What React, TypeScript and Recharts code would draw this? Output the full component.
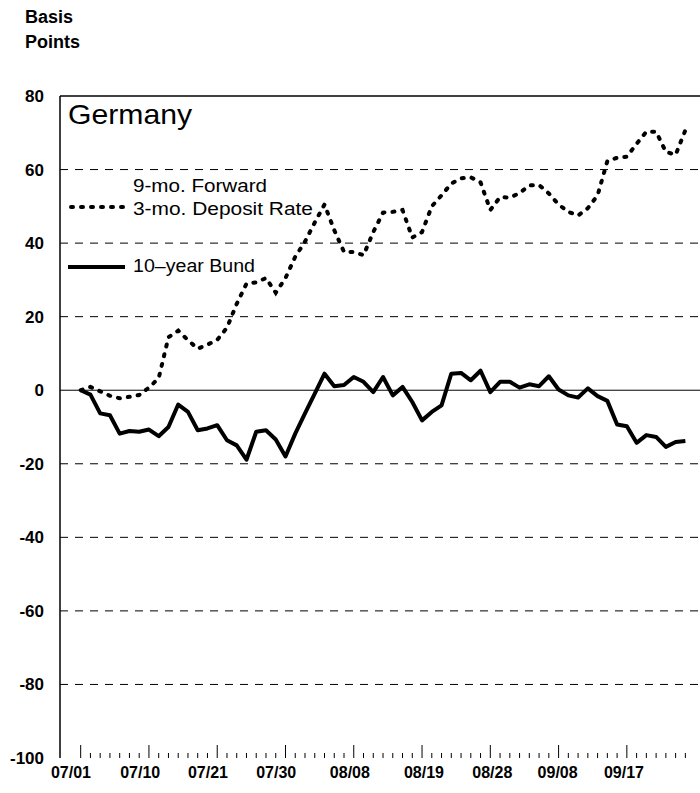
import React from 'react';
import { LineChart, Line, XAxis, YAxis, ReferenceLine } from 'recharts';

// 10-year Bund, basis points change (business days from 07/01)
const bund: number[] = [
  0, -1.2, -6.3, -6.8, -11.8, -11.1, -11.3, -10.7, -12.5, -10.0,
  -3.9, -5.9, -10.9, -10.4, -9.5, -13.6, -15.0, -18.9, -11.3, -10.9,
  -13.4, -18.0, -11.8, -6.3, -0.9, 4.5, 1.1, 1.4, 3.6, 2.3,
  -0.5, 3.6, -1.4, 0.9, -3.2, -8.2, -5.9, -4.1, 4.5, 4.7,
  2.7, 5.3, -0.5, 2.3, 2.3, 0.7, 1.6, 1.1, 3.8, 0.2,
  -1.4, -2.0, 0.5, -1.6, -2.9, -9.3, -9.8, -14.3, -12.2, -12.7,
  -15.4, -14.1, -13.8,
];

// 9-mo. Forward 3-mo. Deposit Rate, basis points change
const forward: number[] = [
  0, 0.9, -0.3, -1.5, -2.2, -1.8, -1.3, 0.7, 3.3, 14.4,
  16.2, 13.6, 11.3, 12.4, 13.7, 17.0, 23.5, 29.0, 29.3, 30.5,
  26.5, 30.5, 36.3, 40.4, 45.6, 50.5, 43.5, 37.6, 37.6, 36.7,
  43.0, 48.3, 48.5, 49.0, 41.5, 43.0, 50.0, 53.0, 56.2, 57.6,
  57.9, 56.5, 49.0, 52.5, 52.4, 53.6, 55.7, 55.8, 53.5, 50.5,
  48.5, 47.5, 49.5, 53.0, 62.3, 63.2, 63.5, 67.0, 70.3, 70.3,
  64.8, 64.0, 70.7,
];

const dateLabels: string[] = ['07/01', '07/10', '07/21', '07/30', '08/08', '08/19', '08/28', '09/08', '09/17'];
const dateLabelPos: number[] = [-1.0, 6.1, 13.05, 20.05, 27.6, 35.2, 42.2, 48.9, 55.7];
const yTicks: number[] = [-100, -80, -60, -40, -20, 0, 20, 40, 60, 80];
const dashedGrid: number[] = [60, 40, 20, -20, -40, -60, -80];

const data = bund.map((b, i) => ({ i, bund: b, fwd: forward[i] }));
const dayTicks = bund.map((_, i) => i);
const bottomTicks = [...dayTicks, ...dateLabelPos].sort((a, b) => a - b);

const FONT = '"Liberation Sans", Arial, sans-serif';

const BottomTick = (props: any) => {
  const { x, y, payload } = props;
  const v = payload.value;
  const idx = dateLabelPos.indexOf(v);
  if (idx >= 0) {
    return (
      <text x={x} y={y + 20} textAnchor="middle" fontFamily={FONT} fontWeight="bold" fontSize={16} fill="#000">
        {dateLabels[idx]}
      </text>
    );
  }
  const major = v % 7 === 0;
  return (
    <g>
      <line x1={x} x2={x} y1={y} y2={y - (major ? 13 : 5)} stroke="#000" strokeWidth={1} />
    </g>
  );
};

const YTick = (props: any) => {
  const { x, y, payload } = props;
  return (
    <text x={x} y={y + 6} textAnchor="end" fontFamily={FONT} fontWeight="bold" fontSize={17} fill="#000">
      {payload.value}
    </text>
  );
};

export default function App() {
  return (
    <div style={{ position: 'absolute', left: 0, top: 0, width: 700, height: 793, background: '#fff' }}>
      <LineChart width={700} height={793} data={data} margin={{ top: 96, right: 0, left: 0, bottom: 0 }}>
        <XAxis
          xAxisId="t"
          dataKey="i"
          type="number"
          domain={[-2.12, 63.5]}
          height={0}
          tick={false}
          axisLine={{ stroke: '#000', strokeWidth: 1.5 }}
          tickLine={false}
          allowDataOverflow
        />
        <XAxis
          xAxisId="lab"
          dataKey="i"
          type="number"
          domain={[-2.12, 63.5]}
          ticks={bottomTicks}
          interval={0}
          minTickGap={0}
          height={35}
          tickSize={0}
          tickMargin={0}
          tick={(p: any) => <BottomTick {...p} />}
          axisLine={false}
          tickLine={false}
          allowDataOverflow
        />
        <YAxis
          type="number"
          domain={[-100, 80]}
          ticks={yTicks}
          interval={0}
          width={60}
          tickSize={0}
          tickMargin={16}
          tick={<YTick />}
          tickLine={false}
          axisLine={{ stroke: '#000', strokeWidth: 1.5 }}
        />
        {dashedGrid.map((v) => (
          <ReferenceLine key={v} xAxisId="t" y={v} stroke="#000" strokeWidth={1} strokeDasharray="8 7" />
        ))}
        <ReferenceLine xAxisId="t" y={0} stroke="#000" strokeWidth={1} />
        <ReferenceLine xAxisId="t" y={80} stroke="#000" strokeWidth={1.5} />
        <Line
          xAxisId="t"
          type="linear"
          dataKey="fwd"
          stroke="#000"
          strokeWidth={4}
          strokeDasharray="2 8"
          strokeLinecap="round"
          dot={false}
          activeDot={false}
          isAnimationActive={false}
        />
        <Line
          xAxisId="t"
          type="linear"
          dataKey="bund"
          stroke="#000"
          strokeWidth={4}
          strokeLinejoin="round"
          dot={false}
          activeDot={false}
          isAnimationActive={false}
        />
      </LineChart>
      <svg width={700} height={793} style={{ position: 'absolute', left: 0, top: 0, pointerEvents: 'none' }}>
        <text x={25} y={23} fontFamily={FONT} fontWeight="bold" fontSize={18} fill="#000">Basis</text>
        <text x={25} y={48} fontFamily={FONT} fontWeight="bold" fontSize={18} fill="#000">Points</text>
        <text x={68} y={124} fontFamily={FONT} fontSize={28} fill="#000" textLength={124} lengthAdjust="spacingAndGlyphs">Germany</text>
        <text x={133} y={192} fontFamily={FONT} fontSize={17.5} fill="#000" textLength={134} lengthAdjust="spacingAndGlyphs">9-mo. Forward</text>
        <line x1={71} x2={127} y1={207} y2={207} stroke="#000" strokeWidth={4} strokeDasharray="2 8" strokeLinecap="round" />
        <text x={133} y={215} fontFamily={FONT} fontSize={17.5} fill="#000" textLength={180} lengthAdjust="spacingAndGlyphs">3-mo. Deposit Rate</text>
        <line x1={68} x2={125} y1={267} y2={267} stroke="#000" strokeWidth={4} />
        <text x={133} y={272} fontFamily={FONT} fontSize={17.5} fill="#000" textLength={122} lengthAdjust="spacingAndGlyphs">10–year Bund</text>
      </svg>
    </div>
  );
}
